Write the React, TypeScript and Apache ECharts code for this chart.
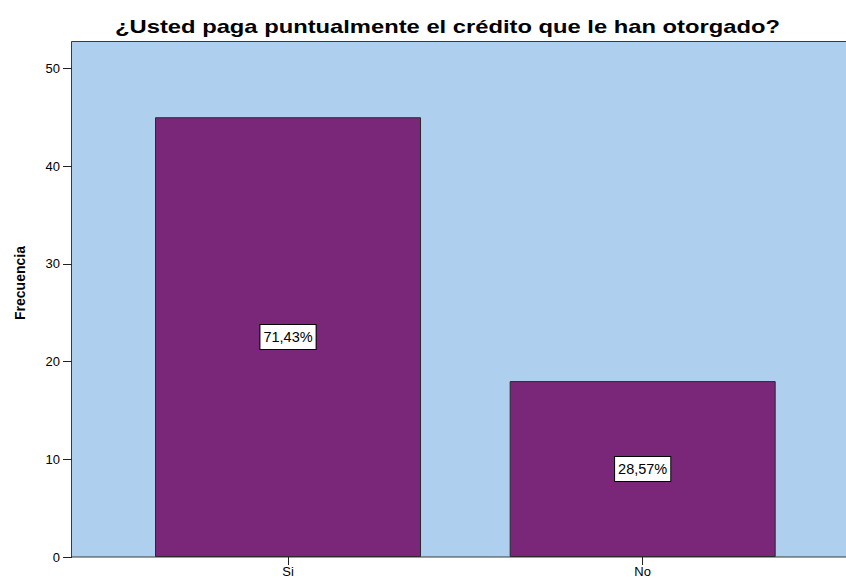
import React, { useEffect, useRef } from "react";
import * as echarts from "echarts";

const categories = ["Si", "No"];
const frequencies = [45, 18];
const yTicks = [0, 10, 20, 30, 40, 50];
const titleText = "¿Usted paga puntualmente el crédito que le han otorgado?";
const yAxisName = "Frecuencia";

const FONT = "'Liberation Sans', Arial, sans-serif";

export default function App() {
  const ref = useRef<HTMLDivElement>(null);
  useEffect(() => {
    if (!ref.current) return;
    const chart = echarts.init(ref.current, undefined, { renderer: "svg" });
    const total = frequencies.reduce((a, b) => a + b, 0);
    const option: any = {
      animation: false,
      backgroundColor: "#ffffff",
      grid: { left: 110.7, right: 26, top: 42, bottom: 21, containLabel: false },
      graphic: [
        {
          type: "rect",
          z: -10,
          silent: true,
          shape: { x: 71.5, y: 41.5, width: 800, height: 515.5 },
          style: { fill: "#AED0EE", stroke: "#3a3a3a", lineWidth: 1 },
        },
        {
          type: "text",
          x: 447.5,
          y: 26.4,
          scaleX: 1.25,
          style: {
            text: titleText,
            font: `bold 19px ${FONT}`,
            fill: "#000",
            textAlign: "center",
            textVerticalAlign: "middle",
          },
        },
        {
          type: "text",
          x: 20,
          y: 283,
          rotation: Math.PI / 2,
          style: {
            text: yAxisName,
            font: `bold 14px ${FONT}`,
            fill: "#000",
            textAlign: "center",
            textVerticalAlign: "middle",
          },
        },
      ],
      xAxis: {
        type: "category",
        data: categories,
        axisLine: { show: false },
        axisTick: { show: true, alignWithLabel: true, length: 8, lineStyle: { color: "#222", width: 1 } },
        axisLabel: { color: "#000", fontSize: 13, fontFamily: FONT, margin: 8 },
      },
      yAxis: {
        type: "value",
        min: 0,
        max: 52.7,
        interval: 10,
        offset: 38.7,
        splitLine: { show: false },
        axisLine: { show: false },
        axisTick: { show: true, length: 9, lineStyle: { color: "#222", width: 1 }, customValues: yTicks },
        axisLabel: {
          color: "#000",
          fontSize: 13,
          fontFamily: FONT,
          margin: 12,
          customValues: yTicks,
        },
      },
      series: [
        {
          type: "bar",
          data: frequencies,
          barWidth: 266,
          z: 5,
          itemStyle: { color: "#7B2779", borderColor: "#2a2a2a", borderWidth: 1 },
          label: {
            show: true,
            position: "inside",
            formatter: (p: any) => ((p.value / total) * 100).toFixed(2).replace(".", ",") + "%",
            color: "#000",
            fontSize: 14.5,
            fontFamily: FONT,
            backgroundColor: "#ffffff",
            borderColor: "#000",
            borderWidth: 1,
            padding: [5, 3, 4, 3],
          },
        },
      ],
    };
    chart.setOption(option);
    return () => chart.dispose();
  }, []);
  return (
    <div
      ref={ref}
      style={{ position: "absolute", left: 0, top: 0, width: 846, height: 578 }}
    />
  );
}
